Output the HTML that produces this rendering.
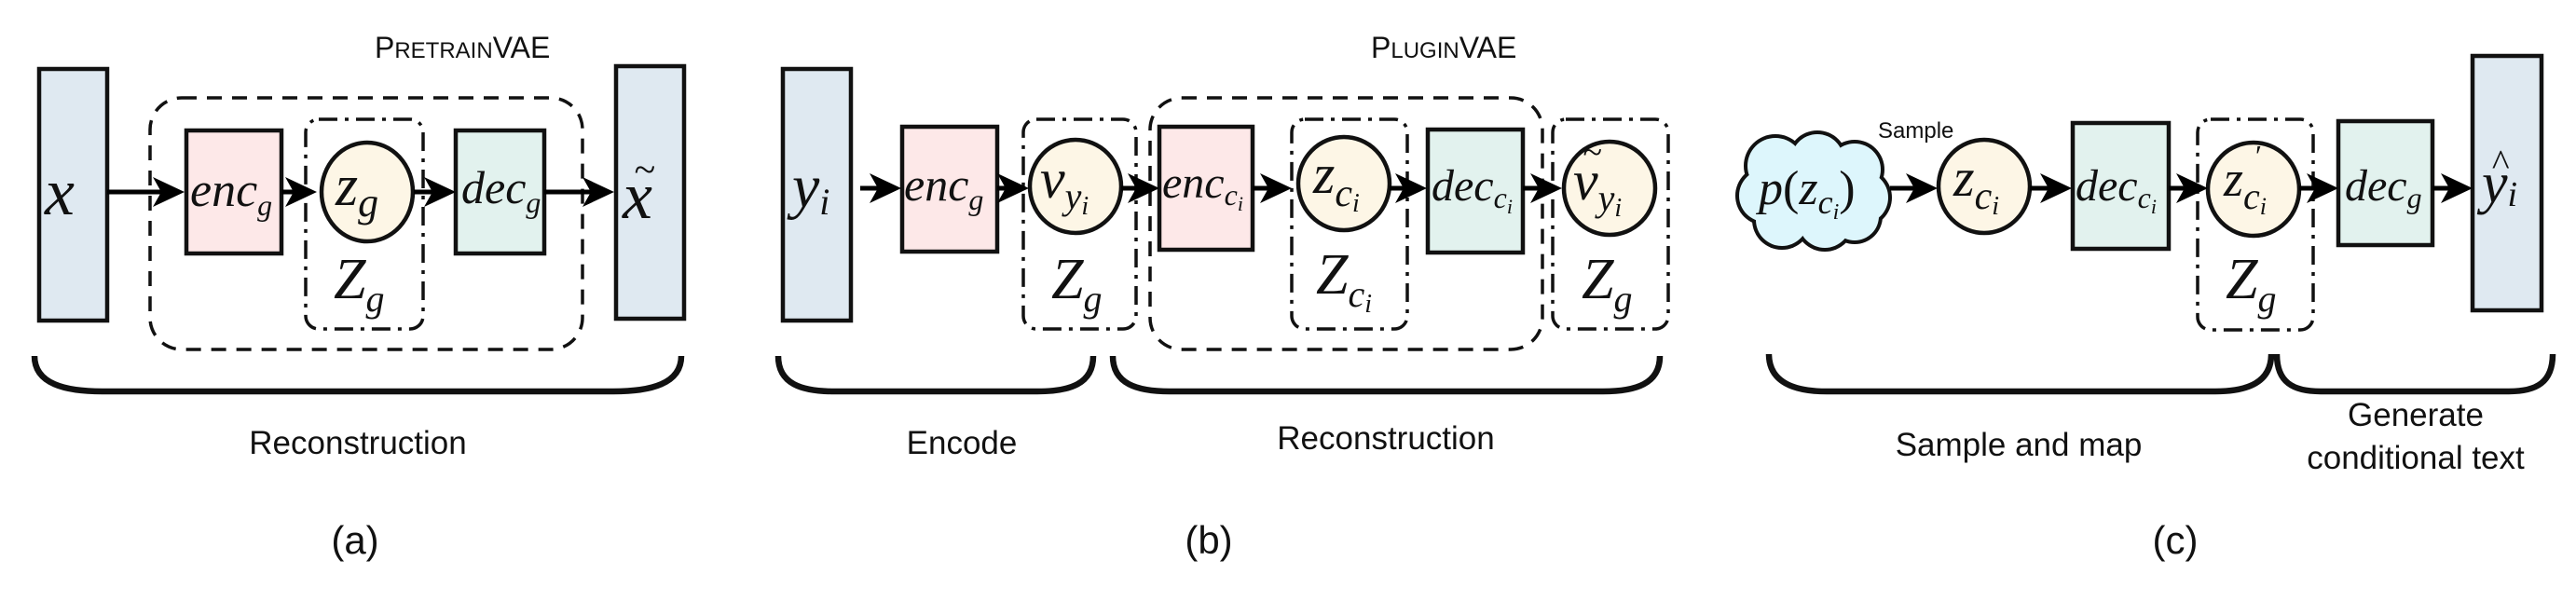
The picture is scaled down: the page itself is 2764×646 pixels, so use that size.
<!DOCTYPE html>
<html><head><meta charset="utf-8"><style>
html,body{margin:0;padding:0;background:#fff}
svg{display:block}
.m{font-family:"Liberation Serif",serif;font-style:italic;fill:#111}
.s{font-family:"Liberation Sans",sans-serif;fill:#111}
</style></head><body>
<svg width="2764" height="646" viewBox="0 0 2764 646" xmlns="http://www.w3.org/2000/svg">
<!-- ============ (a) ============ -->
<g stroke="#111" stroke-width="4.5">
<rect x="42" y="74" width="73" height="270" fill="#dfe9f1"/>
<rect x="200" y="140" width="102" height="132" fill="#fde8e8"/>
<ellipse cx="394" cy="206" rx="49" ry="53" fill="#fdf6e6"/>
<rect x="489" y="140" width="95" height="132" fill="#e2f2ee"/>
<rect x="661" y="71" width="73" height="271" fill="#dfe9f1"/>
</g>
<g fill="none" stroke="#111" stroke-width="3.5">
<rect x="161" y="105" width="464" height="270" rx="34" stroke-dasharray="16 11"/>
<rect x="328" y="128" width="126" height="225" rx="14" stroke-dasharray="20 8 4 8"/>
</g>
<text class="m" x="48" y="230" font-size="72">x</text>
<text class="m" x="204" y="221" font-size="52">enc<tspan font-size="32" dy="10">g</tspan></text>
<text class="m" x="360" y="220" font-size="62">z<tspan font-size="44" dy="12">g</tspan></text>
<text class="m" x="358" y="320" font-size="62">Z<tspan font-size="40" dy="14">g</tspan></text>
<text class="m" x="495" y="218" font-size="50">dec<tspan font-size="32" dy="10">g</tspan></text>
<text class="m" x="668" y="234" font-size="72">x</text>
<text class="m" x="680" y="196" font-size="42" font-style="normal">~</text>
<text class="s" x="402" y="62" font-size="32">P<tspan font-size="24">RETRAIN</tspan>VAE</text>
<text class="s" x="384" y="487" font-size="35" text-anchor="middle">Reconstruction</text>
<text class="s" x="381" y="594" font-size="42" text-anchor="middle">(a)</text>
<!-- ============ (b) ============ -->
<g stroke="#111" stroke-width="4.5">
<rect x="840" y="74" width="73" height="270" fill="#dfe9f1"/>
<rect x="968" y="136" width="102" height="134" fill="#fde8e8"/>
<ellipse cx="1154" cy="200" rx="49" ry="50" fill="#fdf6e6"/>
<rect x="1244" y="136" width="100" height="132" fill="#fde8e8"/>
<ellipse cx="1442" cy="197" rx="49" ry="50" fill="#fdf6e6"/>
<rect x="1532" y="139" width="102" height="132" fill="#e2f2ee"/>
<ellipse cx="1727" cy="202" rx="49" ry="50" fill="#fdf6e6"/>
</g>
<g fill="none" stroke="#111" stroke-width="3.5">
<rect x="1234" y="105" width="421" height="270" rx="34" stroke-dasharray="16 11"/>
<rect x="1098" y="128" width="121" height="225" rx="14" stroke-dasharray="20 8 4 8"/>
<rect x="1386" y="128" width="124" height="225" rx="14" stroke-dasharray="20 8 4 8"/>
<rect x="1666" y="128" width="124" height="225" rx="14" stroke-dasharray="20 8 4 8"/>
</g>
<text class="m" x="850" y="222" font-size="66">y<tspan font-size="40" dy="8">i</tspan></text>
<text class="m" x="970" y="215" font-size="50">enc<tspan font-size="32" dy="10">g</tspan></text>
<text class="m" x="1116" y="212" font-size="60">v<tspan font-size="40" dy="12">y</tspan><tspan font-size="28" dy="6">i</tspan></text>
<text class="m" x="1247" y="212" font-size="48">enc<tspan font-size="32" dy="8">c</tspan><tspan font-size="22" dy="6">i</tspan></text>
<text class="m" x="1409" y="207" font-size="60">z<tspan font-size="42" dy="14">c</tspan><tspan font-size="28" dy="6">i</tspan></text>
<text class="m" x="1536" y="215" font-size="48">dec<tspan font-size="32" dy="8">c</tspan><tspan font-size="22" dy="6">i</tspan></text>
<text class="m" x="1688" y="214" font-size="60">v<tspan font-size="40" dy="12">y</tspan><tspan font-size="28" dy="6">i</tspan></text>
<text class="m" x="1698" y="176" font-size="38" font-style="normal">~</text>
<text class="m" x="1128" y="320" font-size="62">Z<tspan font-size="40" dy="14">g</tspan></text>
<text class="m" x="1412" y="315" font-size="62">Z<tspan font-size="40" dy="14">c</tspan><tspan font-size="28" dy="6">i</tspan></text>
<text class="m" x="1697" y="320" font-size="62">Z<tspan font-size="40" dy="14">g</tspan></text>
<text class="s" x="1471" y="62" font-size="32">P<tspan font-size="24">LUGIN</tspan>VAE</text>
<text class="s" x="1032" y="487" font-size="35" text-anchor="middle">Encode</text>
<text class="s" x="1487" y="482" font-size="35" text-anchor="middle">Reconstruction</text>
<text class="s" x="1297" y="594" font-size="42" text-anchor="middle">(b)</text>
<!-- ============ (c) ============ -->
<g>
<g fill="#111">
<circle cx="1905" cy="178" r="34"/><circle cx="1950" cy="172" r="32"/><circle cx="1990" cy="182" r="32"/>
<circle cx="1894" cy="210" r="32"/><circle cx="1998" cy="212" r="32"/><circle cx="1912" cy="236" r="32"/>
<circle cx="1958" cy="238" r="32"/><circle cx="1990" cy="232" r="30"/>
</g>
<g fill="#ddf6fc">
<circle cx="1905" cy="178" r="30"/><circle cx="1950" cy="172" r="28"/><circle cx="1990" cy="182" r="28"/>
<circle cx="1894" cy="210" r="28"/><circle cx="1998" cy="212" r="28"/><circle cx="1912" cy="236" r="28"/>
<circle cx="1958" cy="238" r="28"/><circle cx="1990" cy="232" r="26"/><ellipse cx="1945" cy="206" rx="60" ry="45"/>
</g>
</g>
<text class="m" x="1887" y="219" font-size="52">p<tspan font-style="normal">(</tspan>z<tspan font-size="36" dy="10">c</tspan><tspan font-size="24" dy="6">i</tspan><tspan font-style="normal" dy="-16">)</tspan></text>
<g stroke="#111" stroke-width="4.5">
<ellipse cx="2129" cy="200" rx="49" ry="50" fill="#fdf6e6"/>
<rect x="2224" y="132" width="103" height="135" fill="#e2f2ee"/>
<ellipse cx="2418" cy="203" rx="49" ry="50" fill="#fdf6e6"/>
<rect x="2509" y="130" width="101" height="133" fill="#e2f2ee"/>
<rect x="2653" y="60" width="74" height="273" fill="#dfe9f1"/>
</g>
<rect x="2358" y="128" width="124" height="226" rx="14" fill="none" stroke="#111" stroke-width="3.5" stroke-dasharray="20 8 4 8"/>
<text class="m" x="2096" y="210" font-size="58">z<tspan font-size="42" dy="14">c</tspan><tspan font-size="28" dy="6">i</tspan></text>
<text class="m" x="2227" y="215" font-size="48">dec<tspan font-size="32" dy="8">c</tspan><tspan font-size="22" dy="6">i</tspan></text>
<text class="m" x="2386" y="210" font-size="54" fill="#333">z<tspan font-size="40" dy="14">c</tspan><tspan font-size="26" dy="6">i</tspan></text>
<text class="m" x="2418" y="178" font-size="32">′</text>
<text class="m" x="2388" y="320" font-size="62">Z<tspan font-size="40" dy="14">g</tspan></text>
<text class="m" x="2516" y="215" font-size="48">dec<tspan font-size="32" dy="8">g</tspan></text>
<text class="m" x="2663" y="217" font-size="62">y<tspan font-size="38" dy="4">i</tspan></text>
<text class="m" x="2673" y="188" font-size="40" font-style="normal">^</text>
<text class="s" x="2015" y="148" font-size="24">Sample</text>
<text class="s" x="2166" y="489" font-size="35" text-anchor="middle">Sample and map</text>
<text class="s" x="2592" y="457" font-size="35" text-anchor="middle">Generate</text>
<text class="s" x="2592" y="503" font-size="35" text-anchor="middle">conditional text</text>
<text class="s" x="2334" y="594" font-size="42" text-anchor="middle">(c)</text>
<!-- braces -->
<g fill="none" stroke="#111" stroke-width="6.5">
<path d="M37,382 C37,412 70,420 110,420 L658,420 C698,420 731,412 731,382"/>
<path d="M835,382 C835,412 860,420 895,420 L1113,420 C1148,420 1173,412 1173,382"/>
<path d="M1194,382 C1194,412 1220,420 1255,420 L1720,420 C1755,420 1781,412 1781,382"/>
<path d="M1898,380 C1898,410 1925,420 1960,420 L2377,420 C2412,420 2437,410 2437,380"/>
<path d="M2443,380 C2443,410 2460,420 2490,420 L2692,420 C2722,420 2739,410 2739,380"/>
</g>
<!-- arrows -->
<g stroke="#000" stroke-width="5" fill="none">
<path d="M115,206 H185"/><path d="M302,206 H330"/><path d="M444,206 H475"/><path d="M584,206 H645"/>
<path d="M923,202 H955"/><path d="M1070,202 H1092"/><path d="M1203,202 H1232"/><path d="M1344,202 H1372"/><path d="M1491,202 H1518"/><path d="M1634,202 H1662"/>
<path d="M2028,202 H2066"/><path d="M2178,202 H2210"/><path d="M2327,202 H2356"/><path d="M2467,202 H2496"/><path d="M2610,202 H2640"/>
</g>
<g fill="#000" stroke="none">
<path d="M198,206 l-34,-16 l9,16 l-9,16z"/>
<path d="M340,206 l-34,-16 l9,16 l-9,16z"/>
<path d="M489,206 l-34,-16 l9,16 l-9,16z"/>
<path d="M659,206 l-34,-16 l9,16 l-9,16z"/>
<path d="M967,202 l-34,-16 l9,16 l-9,16z"/>
<path d="M1104,202 l-34,-16 l9,16 l-9,16z"/>
<path d="M1244,202 l-34,-16 l9,16 l-9,16z"/>
<path d="M1386,202 l-34,-16 l9,16 l-9,16z"/>
<path d="M1531,202 l-34,-16 l9,16 l-9,16z"/>
<path d="M1676,202 l-34,-16 l9,16 l-9,16z"/>
<path d="M2079,202 l-34,-16 l9,16 l-9,16z"/>
<path d="M2223,202 l-34,-16 l9,16 l-9,16z"/>
<path d="M2369,202 l-34,-16 l9,16 l-9,16z"/>
<path d="M2509,202 l-34,-16 l9,16 l-9,16z"/>
<path d="M2653,202 l-34,-16 l9,16 l-9,16z"/>
</g>
</svg>
</body></html>
